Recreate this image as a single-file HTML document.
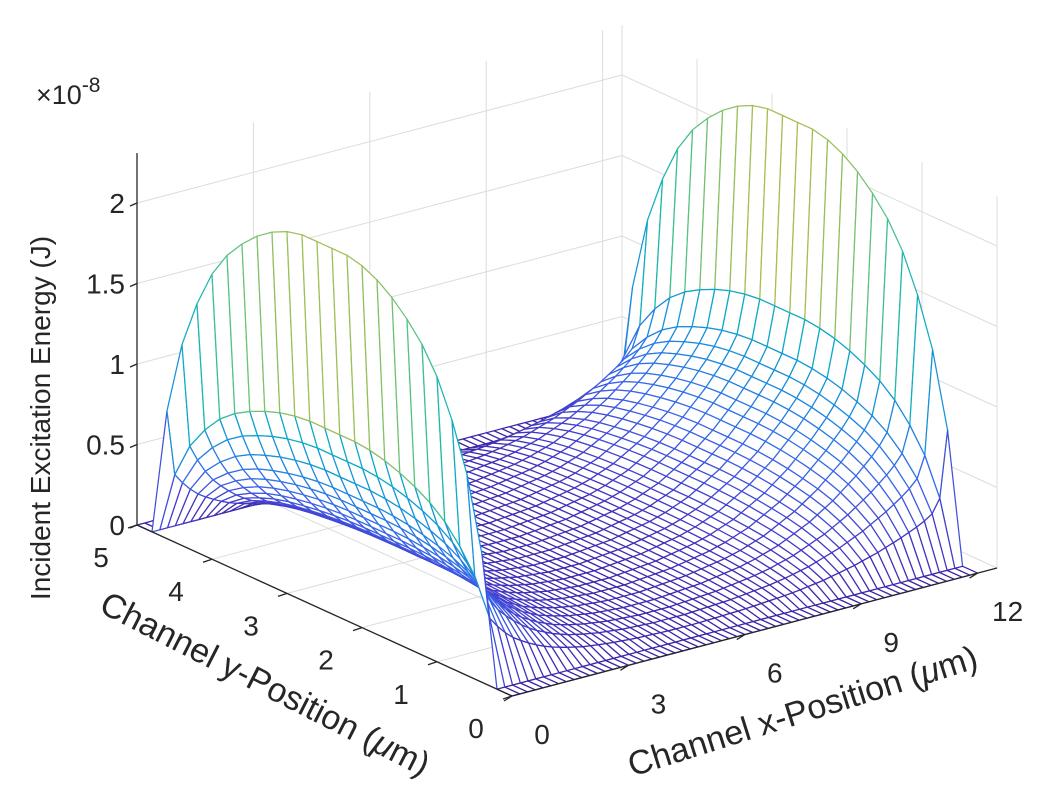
<!DOCTYPE html>
<html><head><meta charset="utf-8"><style>
html,body{margin:0;padding:0;background:#fff;}
svg{display:block;font-family:"Liberation Sans",sans-serif;}
</style></head><body>
<svg id="chart" width="1050" height="802" viewBox="0 0 1050 802" xmlns="http://www.w3.org/2000/svg">
<g id="grid"></g>
<g id="mesh"></g>
<g id="axes"></g>
<text x="0" y="0" font-size="28" fill="#262626" text-anchor="middle" transform="translate(50,418) rotate(-90)">Incident Excitation Energy (J)</text>
<text x="36" y="104" font-size="27" fill="#262626">×10<tspan dy="-12" font-size="21">-8</tspan></text>
<text x="0" y="0" font-size="34" fill="#262626" text-anchor="middle" transform="translate(260,694) rotate(27)">Channel y-Position (<tspan font-style="italic">μ</tspan>m)</text>
<text x="0" y="0" font-size="34" fill="#262626" text-anchor="middle" transform="translate(806,722) rotate(-17.5)">Channel x-Position (<tspan font-style="italic">μ</tspan>m)</text>
</svg>
<script>
// ---- data ----
const xVals = [0,0.2,0.4,0.6,0.8,1.0,1.2,1.4,1.6,1.8,2.0,2.2,2.4,2.6,2.8,3.0,3.2,3.4,3.6,3.8,4.0,4.2,4.4,4.6,4.8,5.0,5.2,5.4,5.6,5.8,6.0,6.2,6.4,6.6,6.8,7.0,7.2,7.4,7.6,7.8,8.0,8.2,8.4,8.6,8.8,9.0,9.2,9.4,9.6,9.8,10.0,10.2,10.4,10.6,10.8,11.0,11.2,11.4,11.6,11.8,12.0];
const ampX = [2.27,1.10,0.92,0.77,0.65,0.56,0.48,0.41,0.35,0.30,0.26,0.22,0.19,0.16,0.14,0.12,0.105,0.09,0.08,0.07,0.06,0.055,0.05,0.045,0.04,0.04,0.04,0.04,0.04,0.045,0.05,0.055,0.06,0.065,0.07,0.08,0.09,0.10,0.11,0.12,0.135,0.15,0.17,0.19,0.21,0.24,0.27,0.30,0.33,0.37,0.41,0.45,0.50,0.55,0.60,0.66,0.72,0.79,0.88,1.12,2.29];
const yVals = [0,0.2,0.4,0.6,0.8,1.0,1.2,1.4,1.6,1.8,2.0,2.2,2.4,2.6,2.8,3.0,3.2,3.4,3.6,3.8,4.0,4.2,4.4,4.6,4.8,5.0];
const profY = [0,0,0.35,0.55,0.68,0.78,0.85,0.90,0.94,0.97,0.99,1.0,1.0,1.0,1.0,0.99,0.97,0.94,0.90,0.85,0.78,0.68,0.55,0.35,0,0];
const xTicks = [0,3,6,9,12];
const yTicks = [0,1,2,3,4,5];
const zTicks = [0,0.5,1,1.5,2];
const zTickLabels = ["0","0.5","1","1.5","2"];
// ---- axes / projection ----
const X_MAX = 12.5, Y_MAX = 5, Z_MAX = 2.31, C_MAX = 2.29;
function P(x,y,z){ return [512 + 38.8*x - 75*y, 696 - 10.24*x - 34.2*y - 161*z]; }
const NS = "http://www.w3.org/2000/svg";
function mk(tag, parent, attrs){ const e=document.createElementNS(NS,tag); for(const k in attrs) e.setAttribute(k,attrs[k]); parent.appendChild(e); return e; }
const parula = [[0,[62,38,168]],[0.08,[68,62,205]],[0.18,[60,100,235]],[0.3,[30,135,225]],[0.42,[10,168,205]],[0.55,[30,185,170]],[0.65,[90,195,130]],[0.75,[170,190,80]],[0.85,[240,185,55]],[0.93,[250,210,40]],[1,[249,251,14]]];
function col(t){ t=Math.max(0,Math.min(1,t)); for(let i=1;i<parula.length;i++){ if(t<=parula[i][0]){ const a=parula[i-1],b=parula[i]; const f=(t-a[0])/(b[0]-a[0]); const c=a[1].map((v,k)=>Math.round(v+(b[1][k]-v)*f)); return `rgb(${c[0]},${c[1]},${c[2]})`; } } return 'rgb(249,251,14)'; }
function seg(g,a,b,stroke,w){ return mk('line',g,{x1:a[0].toFixed(1),y1:a[1].toFixed(1),x2:b[0].toFixed(1),y2:b[1].toFixed(1),stroke:stroke,'stroke-width':w}); }
// grid
const grid=document.getElementById('grid');
const gc='#dcdcdc';
xTicks.forEach(x=>{ let l=seg(grid,P(x,Y_MAX,0),P(x,Y_MAX,Z_MAX),gc,1);  
  l=seg(grid,P(x,0,0),P(x,Y_MAX,0),gc,1);   });
yTicks.forEach(y=>{ let l=seg(grid,P(X_MAX,y,0),P(X_MAX,y,Z_MAX),gc,1);  
  l=seg(grid,P(0,y,0),P(X_MAX,y,0),gc,1);   });
zTicks.forEach(z=>{ let l=seg(grid,P(0,Y_MAX,z),P(X_MAX,Y_MAX,z),gc,1);  
  l=seg(grid,P(X_MAX,Y_MAX,z),P(X_MAX,0,z),gc,1);   });
// mesh
const mesh=document.getElementById('mesh');
const Z = xVals.map((x,i)=>yVals.map((y,j)=>ampX[i]*profY[j]));
const quads=[];
for(let i=0;i<xVals.length-1;i++) for(let j=0;j<yVals.length-1;j++){
  const xc=(xVals[i]+xVals[i+1])/2, yc=(yVals[j]+yVals[j+1])/2;
  quads.push({i,j,key:10.24*xc+34.2*yc});
}
quads.sort((a,b)=>b.key-a.key);
quads.forEach(q=>{
  const i=q.i,j=q.j;
  const pts=[P(xVals[i],yVals[j],Z[i][j]),P(xVals[i+1],yVals[j],Z[i+1][j]),P(xVals[i+1],yVals[j+1],Z[i+1][j+1]),P(xVals[i],yVals[j+1],Z[i][j+1])];
  const zavg=(Z[i][j]+Z[i+1][j]+Z[i+1][j+1]+Z[i][j+1])/4;
  const p=mk('polygon',mesh,{points:pts.map(p=>p[0].toFixed(1)+','+p[1].toFixed(1)).join(' '),fill:'#fff',stroke:col(zavg/C_MAX),'stroke-width':1.25,'stroke-linejoin':'round'});
  
  
});
// axes
const axes=document.getElementById('axes');
const ac='#262626';
let a=seg(axes,P(0,Y_MAX,0),P(0,Y_MAX,Z_MAX),ac,1.3);  
a=seg(axes,P(0,0,0),P(0,Y_MAX,0),ac,1.3);  
a=seg(axes,P(0,0,0),P(X_MAX,0,0),ac,1.3);  
zTicks.forEach((z,k)=>{ const p=P(0,Y_MAX,z);
  const t=seg(axes,p,[p[0]-7,p[1]+3],ac,1.3);  
  const tx=mk('text',axes,{x:p[0]-12,y:p[1]+10,'font-size':28,fill:ac,'text-anchor':'end'}); tx.textContent=zTickLabels[k];
    });
yTicks.forEach(y=>{ const p=P(0,y,0);
  const t=seg(axes,p,[p[0]-9,p[1]+3],ac,1.3);  
  const tx=mk('text',axes,{x:p[0]-36,y:p[1]+42,'font-size':28,fill:ac,'text-anchor':'middle'}); tx.textContent=String(y);
    });
xTicks.forEach(x=>{ const p=P(x,0,0);
  const t=seg(axes,p,[p[0]-8,p[1]+5],ac,1.3);  
  const tx=mk('text',axes,{x:p[0]+30,y:p[1]+48,'font-size':28,fill:ac,'text-anchor':'middle'}); tx.textContent=String(x);
    });
</script>
</body></html>
